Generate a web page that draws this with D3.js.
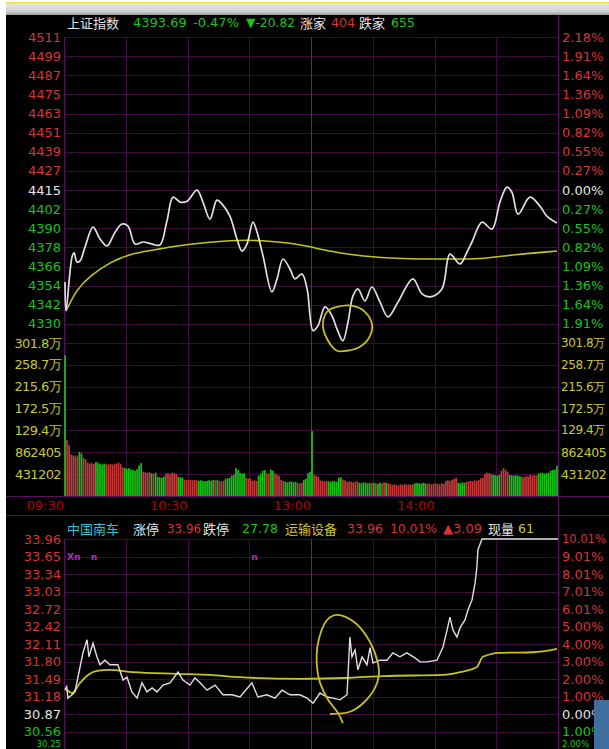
<!DOCTYPE html>
<html><head><meta charset="utf-8">
<script src="https://cdn.jsdelivr.net/npm/d3@7"></script>
<style>html,body{margin:0;padding:0;background:#fff;overflow:hidden}svg{display:block}</style>
</head><body>
<svg id="c" width="609" height="749"></svg>
<script>
// ---------------- DATA ----------------
const topPrevClose = 4414.51, topStep = 12.03;
const topTickLabels = ["4511","4499","4487","4475","4463","4451","4439","4427","4415","4402","4390","4378","4366","4354","4342","4330"];
const topPctLabels = ["2.18%","1.91%","1.64%","1.36%","1.09%","0.82%","0.55%","0.27%","0.00%","0.27%","0.55%","0.82%","1.09%","1.36%","1.64%","1.91%"];
const volTickLabels = ["301.8万","258.7万","215.6万","172.5万","129.4万","862405","431202"];
const volTickValues = [301.8,258.7,215.6,172.5,129.4,86.24,43.12];
const timeLabels = ["09:30","10:30","13:00","14:00"];
const timeLabelMinutes = [0,60,120,180];

const topTimes = [0.5,1,3.9,4.9,6.3,7.8,10.2,14.1,17.5,20.9,24.8,28.2,31.1,34.5,38.4,42.8,46.6,50,53,56.4,59.8,64.6,67.5,70.9,74.3,76.8,80.6,84,86.5,88.9,91.8,93.8,96.7,101,103.5,106.4,109.8,112.2,115.6,118.1,121,123.4,126.8,130.2,132.6,135.5,138,140.4,142.8,146.2,149.6,153.5,157.4,162.3,169.5,173.9,177.8,183.6,187.5,192.4,195.8,198.2,203.1,207.9,211.8,215.2,217.6,220.6,226.4,231.2,234.6,239.5];
const topPrices = [4356.7,4338.5,4372.4,4374.9,4369.2,4369.9,4378.6,4391.2,4383.7,4379.3,4388.0,4393.1,4391.8,4380.5,4381.8,4380.5,4379.9,4395.0,4410.0,4406.9,4407.5,4414.4,4406.9,4396.2,4408.1,4405.6,4398.1,4383.7,4376.1,4380.5,4394.3,4388.0,4373.0,4350.4,4358.6,4371.1,4364.8,4358.6,4361.7,4352.3,4326.0,4329.1,4341.0,4335.4,4327.2,4319.7,4331.6,4347.9,4352.3,4344.8,4353.5,4344.1,4334.7,4344.1,4358.6,4349.2,4347.3,4352.3,4374.2,4368.0,4375.5,4381.8,4394.3,4389.9,4406.9,4416.3,4413.1,4399.3,4410.0,4404.4,4398.1,4393.7];
const topAvgTimes = [1,6.3,12.6,22.3,33.5,46.6,59.8,82.1,95.2,114.6,127.8,143.8,163.2,187.5,203.6,211.8,239.5];
const topAvgPrices = [4338.5,4352.3,4360.4,4369.2,4374.9,4377.4,4380.5,4383.0,4383.0,4380.5,4376.1,4373.0,4371.1,4371.1,4371.1,4373.0,4376.1];

// volume per minute (万), 240 bars
const volumes = [278,110,100,82,80,78,80,87,84,75,72,66,64,65,63,67,66,63,62,64,63,62,63,62,63,64,66,63,57,55,54,55,52,51,50,53,60,65,48,47,46,47,45,44,46,38,37,36,38,44,45,43,46,45,44,38,37,36,32,31,32,32,31,32,31,30,31,30,29,30,31,30,32,31,32,30,29,30,34,35,36,40,42,55,52,46,44,45,36,34,35,30,31,30,40,44,50,51,45,44,52,50,45,42,40,32,30,28,27,28,29,27,28,26,25,26,32,34,45,48,128,42,40,38,31,30,29,30,29,28,30,29,28,36,37,32,31,28,29,28,27,28,29,26,25,27,26,25,26,25,26,25,24,26,25,27,26,25,24,22,23,22,21,23,22,24,22,23,22,23,25,26,25,24,26,25,24,25,23,24,25,24,23,25,24,30,31,30,32,34,36,26,25,27,26,28,29,30,29,31,30,32,35,36,44,46,45,44,42,41,40,42,50,55,52,48,42,41,40,41,40,39,38,37,39,38,42,40,41,40,44,45,46,44,45,46,50,51,52,60];
const volDirs = ["G","RR","RRRR","GG","RR","RRRR","GG","GGGRR","RRRR","RR","RGGG","GGGG","GG","RRRR","GRG","GGGG","RRRRRR","GGG","RRRRRRR","GGGGGGG","GRG","RRR","GGG","GG","GG","GGG","RRR","RRR","GG","GG","RR","GG","RRR","RR","GGGGGG","RRR","GG","GG","G","RRR","RRRR","GGGGG","GG","RR","RRRRRR","GGGGGG","RGRGGRRGRR","RRRRRRRRRRR","GGGGGG","RRRRRRRRR","RRRR","RR","GGGG","RRRRRRR","RR","RRRR","GGGG","RRRR","GGGGGG","RRRR","RRRR","GGGGGG","GGG","G"].join("");

const btmPrevClose = 30.87, btmLimitUp = 33.96;
const btmTickLabels = ["33.96","33.65","33.34","33.03","32.72","32.42","32.11","31.80","31.49","31.18","30.87","30.56","30.25"];
const btmPctLabels = ["10.01%","9.01%","8.01%","7.01%","6.01%","5.00%","4.00%","3.00%","2.00%","1.00%","0.00%","1.00%","2.00%"];
const btmTimes = [0.5,1.3,1.9,3.9,5.3,7.8,9.2,11.2,12.1,14.1,16.0,17.5,19.9,22.3,26.2,28.7,30.6,33.0,35.5,37.9,40.3,42.8,45.2,48.1,51.5,55.4,57.8,61.2,63.6,66.1,69.5,73.4,77.2,81.6,85.5,91.3,94.2,98.6,102.5,105.9,109.8,114.6,118.1,121.0,124.4,127.8,130.7,134.1,137.5,138.9,139.9,141.4,142.8,144.8,147.2,148.7,150.1,153.5,156.9,159.8,163.2,166.6,170.5,172.9,176.3,181.2,184.1,186.1,187.5,189.0,190.9,192.4,194.8,196.3,198.2,199.7,200.6,201.1,203.1,240];
const btmPrices = [31.29,31.35,31.15,31.21,31.26,31.70,31.95,32.18,31.88,32.12,31.88,31.74,31.82,31.74,31.74,31.47,31.52,31.26,31.15,31.42,31.26,31.33,31.26,31.38,31.42,31.61,31.47,31.38,31.51,31.42,31.29,31.38,31.21,31.21,31.17,31.42,31.17,31.21,31.15,31.29,31.21,31.21,31.15,31.06,31.24,31.17,31.15,31.12,31.21,32.23,31.88,32.00,31.65,31.88,31.74,32.04,31.77,31.82,31.82,31.95,31.88,31.95,31.86,31.79,31.79,31.82,32.05,32.35,32.58,32.35,32.23,32.39,32.53,32.71,32.88,33.18,33.47,33.77,33.96,33.96];
const btmAvgTimes = [0.5,3.9,7.8,11.7,16,22.3,33.5,54.9,70.9,85.5,114.6,138.9,155,184.1,192.4,200.6,203.5,211.8,227.8,239.5];
const btmAvgPrices = [31.33,31.24,31.42,31.56,31.63,31.65,31.61,31.58,31.56,31.52,31.49,31.51,31.54,31.56,31.61,31.70,31.88,31.95,31.96,32.02];

// hand-drawn annotation loops (minute, price)
const topLoopTimes = [127.8,132.6,140.4,146.2,149.6,148.7,143.8,137.5,132.6,128.3,125.8];
const topLoopPrices = [4337.9,4341.0,4341.6,4337.9,4330.3,4322.8,4315.9,4313.4,4313.4,4319.7,4329.1];
const btmLoopTimes = [135.5,133.1,128.3,124.4,122.9,123.4,127.8,132.6,141.4,148.7,152.5,153.0,151.1,145.3,138.9,129.2];
const btmLoopPrices = [30.71,30.89,31.12,31.42,31.70,32.12,32.53,32.62,32.48,32.14,31.77,31.56,31.33,31.06,30.91,30.87];

// ---------------- DRAW ----------------
const svg = d3.select("#c");
const L = 64, R = 558;
const FONT = "'DejaVu Sans', sans-serif";
const CJK = "'Noto Sans CJK SC', sans-serif";
const C = {grid:"#3e0a40", gridB:"#5a1060", mid:"#7a1a80", red:"#d83434", white:"#e4e4e4", green:"#18c418", yellow:"#c8c832", time:"#b40000", price:"#e0e0e0", avg:"#c4c41c", cyan:"#2cc0d0", mag:"#c020d0"};

const defs = svg.append("defs");
const g0 = defs.append("linearGradient").attr("id","bar").attr("x1",0).attr("y1",0).attr("x2",0).attr("y2",1);
g0.append("stop").attr("offset","0%").attr("stop-color","#e6e6e6");
g0.append("stop").attr("offset","70%").attr("stop-color","#d2d2d2");
g0.append("stop").attr("offset","100%").attr("stop-color","#9a9a9a");
svg.append("rect").attr("x",0).attr("y",0).attr("width",609).attr("height",749).attr("fill","#fff");
svg.append("rect").attr("x",6).attr("y",3).attr("width",603).attr("height",12).attr("fill","url(#bar)");
svg.append("rect").attr("x",6).attr("y",2).attr("width",603).attr("height",1.5).attr("fill","#f0e44a");
svg.append("rect").attr("x",6).attr("y",15).attr("width",603).attr("height",734).attr("fill","#000");

const x = d3.scaleLinear().domain([0,240]).range([L,R]);
const yTop = d3.scaleLinear().domain([topPrevClose-8*topStep, topPrevClose+8*topStep]).range([343,37]);
const yVol = d3.scaleLinear().domain([0,301.8]).range([496,343]);
const yBtm = d3.scaleLinear().domain([btmPrevClose, btmLimitUp]).range([714,539]);
const btmGrid = d3.scaleLinear().domain([0,10]).range([539,714]);

const grid = svg.append("g").attr("shape-rendering","crispEdges");
topTickLabels.forEach((t,i)=>{
  const yy = Math.round(yTop(topPrevClose+(8-i)*topStep))+0.5;
  grid.append("line").attr("x1",L).attr("x2",R).attr("y1",yy).attr("y2",yy).attr("stroke",C.grid);
});
volTickValues.forEach(v=>{
  const yy = Math.round(yVol(v))+0.5;
  grid.append("line").attr("x1",L).attr("x2",R).attr("y1",yy).attr("y2",yy).attr("stroke",C.grid);
});
btmTickLabels.forEach((t,i)=>{
  const yy = Math.round(btmGrid(i))+0.5;
  grid.append("line").attr("x1",L).attr("x2",R).attr("y1",yy).attr("y2",yy).attr("stroke",C.grid);
});
d3.range(0,240,30).forEach(m=>{
  const xx = Math.round(x(m))+0.5;
  const col = m===120 ? C.mid : (m===0 ? C.gridB : C.grid);
  grid.append("line").attr("x1",xx).attr("x2",xx).attr("y1",37).attr("y2",496).attr("stroke",col);
  grid.append("line").attr("x1",xx).attr("x2",xx).attr("y1",539).attr("y2",749).attr("stroke",col);
});
const xr = Math.round(x(240))+0.5;
grid.append("line").attr("x1",xr).attr("x2",xr).attr("y1",15).attr("y2",749).attr("stroke",C.gridB);
grid.append("line").attr("x1",6).attr("x2",609).attr("y1",496.5).attr("y2",496.5).attr("stroke",C.gridB);
grid.append("line").attr("x1",6).attr("x2",609).attr("y1",515.5).attr("y2",515.5).attr("stroke",C.gridB);

// axis labels
const lab = svg.append("g").attr("font-family",FONT).attr("font-size",13).attr("dominant-baseline","central");
function fitRight(t){
  const avail = 607 - (+t.attr("x"));
  let fs = +t.attr("font-size") || 13;
  while (t.node().getComputedTextLength() > avail && fs > 7) { fs -= 0.5; t.attr("font-size",fs); }
  return t;
}
topTickLabels.forEach((t,i)=>{
  const yy = yTop(topPrevClose+(8-i)*topStep);
  const col = i<8 ? C.red : (i===8 ? C.white : C.green);
  lab.append("text").attr("x",61).attr("y",yy).attr("text-anchor","end").attr("fill",col).text(t);
  fitRight(lab.append("text").attr("x",562).attr("y",yy).attr("fill",col).text(topPctLabels[i]));
});
volTickValues.forEach((v,i)=>{
  lab.append("text").attr("x",61).attr("y",yVol(v)).attr("text-anchor","end").attr("fill",C.yellow).attr("letter-spacing",-0.6).text(volTickLabels[i]);
  fitRight(lab.append("text").attr("x",561).attr("y",yVol(v)).attr("fill",C.yellow).attr("letter-spacing",-0.4).text(volTickLabels[i]));
});
timeLabels.forEach((t,i)=>{
  lab.append("text").attr("x",x(timeLabelMinutes[i])).attr("y",505).attr("text-anchor","end").attr("fill",C.time).text(t);
});
btmTickLabels.forEach((t,i)=>{
  const col = i<10 ? C.red : (i===10 ? C.white : C.green);
  const last = i===12;
  const yy = last ? 744 : btmGrid(i);
  const fs = last ? 8.5 : 13;
  lab.append("text").attr("x",61).attr("y",yy).attr("font-size",fs).attr("text-anchor","end").attr("fill",col).text(t);
  fitRight(lab.append("text").attr("x",562).attr("y",yy).attr("font-size",fs).attr("fill",col).text(btmPctLabels[i]));
});

function header(items, yy){
  const g = svg.append("g").attr("font-size",13).attr("dominant-baseline","central");
  items.forEach(([xx,txt,col,cjk,mw])=>{
    const t = g.append("text").attr("x",xx).attr("y",yy).attr("fill",col).attr("font-family",cjk?CJK:FONT).text(txt);
    if (mw && t.node().getComputedTextLength() > mw) t.attr("textLength",mw).attr("lengthAdjust","spacingAndGlyphs");
  });
}
header([[67,"上证指数",C.white,1,55],[133,"4393.69",C.green,0,54],[193,"-0.47%",C.green,0,46],[246,"▼-20.82",C.green,0,49],[300,"涨家",C.white,1,28],[331,"404",C.red,0,24],[359,"跌家",C.white,1,28],[391,"655",C.green,0,24]],22);
header([[67,"中国南车",C.cyan,1,55],[133,"涨停",C.white,1,28],[167,"33.96",C.red,0,34],[203,"跌停",C.white,1,28],[242,"27.78",C.green,0,36],[285,"运输设备",C.yellow,1,55],[347,"33.96",C.red,0,36],[390,"10.01%",C.red,0,47],[443,"▲3.09",C.red,0,40],[488,"现量",C.white,1,28],[518,"61",C.yellow,0,16]],528);

// volume bars
const bw = (x(1)-x(0));
svg.append("g").selectAll("rect").data(volumes).join("rect")
  .attr("x",(d,i)=>x(i)+0.2).attr("width",bw*0.82)
  .attr("y",d=>yVol(d)).attr("height",d=>yVol(0)-yVol(d))
  .attr("fill",(d,i)=>volDirs[i]==="R"?"#c23a3a":"#14c414");

// lines
const clipTop = defs.append("clipPath").attr("id","ct");
clipTop.append("rect").attr("x",L).attr("y",37).attr("width",R-L).attr("height",306);
const clipB = defs.append("clipPath").attr("id","cb");
clipB.append("rect").attr("x",L).attr("y",530).attr("width",R-L+1).attr("height",219);

const topPts = topTimes.map((t,i)=>[t,topPrices[i]]);
const topAvg = topAvgTimes.map((t,i)=>[t,topAvgPrices[i]]);
const lineTop = d3.line().x(d=>x(d[0])).y(d=>yTop(d[1]));
svg.append("path").attr("clip-path","url(#ct)").attr("d",lineTop.curve(d3.curveBasis)(topAvg)).attr("fill","none").attr("stroke",C.avg).attr("stroke-width",1.6);
svg.append("path").attr("clip-path","url(#ct)").attr("d",lineTop.curve(d3.curveCatmullRom.alpha(0.5))(topPts)).attr("fill","none").attr("stroke",C.price).attr("stroke-width",1.7);

const btmPts = btmTimes.map((t,i)=>[t,btmPrices[i]]);
const btmAvg = btmAvgTimes.map((t,i)=>[t,btmAvgPrices[i]]);
const lineB = d3.line().x(d=>x(d[0])).y(d=>yBtm(d[1]));
svg.append("path").attr("clip-path","url(#cb)").attr("d",lineB.curve(d3.curveMonotoneX)(btmAvg)).attr("fill","none").attr("stroke",C.avg).attr("stroke-width",1.8);
svg.append("path").attr("clip-path","url(#cb)").attr("d",lineB.curve(d3.curveLinear)(btmPts)).attr("fill","none").attr("stroke",C.price).attr("stroke-width",1.4);

// annotations
const topLoop = topLoopTimes.map((t,i)=>[t,topLoopPrices[i]]);
svg.append("path").attr("d",lineTop.curve(d3.curveCatmullRomClosed)(topLoop)).attr("fill","none").attr("stroke","#c8c020").attr("stroke-width",1.8);
const btmLoop = btmLoopTimes.map((t,i)=>[t,btmLoopPrices[i]]);
svg.append("path").attr("d",lineB.curve(d3.curveCatmullRom)(btmLoop)).attr("fill","none").attr("stroke","#c8c020").attr("stroke-width",1.8);

// markers
const mk = svg.append("g").attr("font-family",FONT).attr("font-size",9).attr("font-weight","bold").attr("fill",C.mag).attr("dominant-baseline","central");
mk.append("text").attr("x",x(1.5)).attr("y",btmGrid(1)).text("Xn");
mk.append("text").attr("x",x(13)).attr("y",btmGrid(1)).text("n");
mk.append("text").attr("x",x(91)).attr("y",btmGrid(1)).text("n");

// corner widget
svg.append("rect").attr("x",594).attr("y",700).attr("width",15).attr("height",49).attr("fill","#3f6f9f");
</script>
</body></html>
